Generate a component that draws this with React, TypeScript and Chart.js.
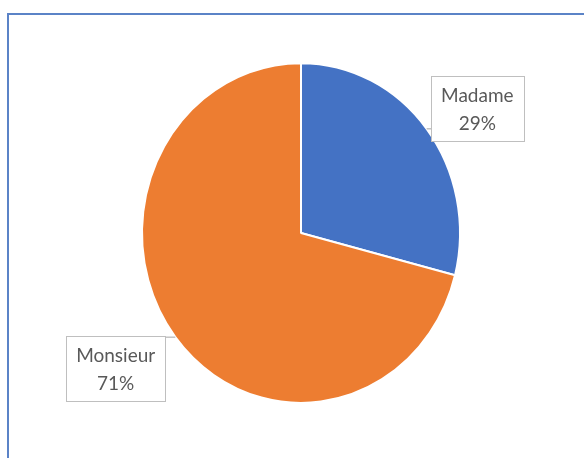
import React, { useEffect, useRef } from "react";
import { Chart, registerables } from "chart.js";

Chart.register(...registerables);

const categories = ["Madame", "Monsieur"];
const values = [29, 71];
const percentLabels = ["29%", "71%"];
const colors = ["#4472C4", "#ED7D31"];
// label box nudges (pixels) relative to default callout placement
const labelNudges = [
  [13, 11],
  [-22, 0],
];

const SY = 171 / 160; // vertical stretch of the pie

const stretchPlugin = {
  id: "stretch",
  beforeDatasetsDraw(chart: any) {
    const ctx = chart.ctx;
    const a = chart.chartArea;
    const cx = (a.left + a.right) / 2;
    const cy = (a.top + a.bottom) / 2;
    ctx.save();
    ctx.translate(cx, cy);
    ctx.scale(1, SY);
    ctx.translate(-cx, -cy);
  },
  afterDatasetsDraw(chart: any) {
    chart.ctx.restore();
  },
};

const calloutPlugin = {
  id: "callouts",
  afterDraw(chart: any) {
    const ctx = chart.ctx;
    const meta = chart.getDatasetMeta(0);
    const fontSize = 19;
    ctx.save();
    ctx.font = `${fontSize}px Lato, "Open Sans", sans-serif`;
    meta.data.forEach((arc: any, i: number) => {
      const p = arc.getProps(["x", "y", "startAngle", "endAngle", "outerRadius"], true);
      const mid = (p.startAngle + p.endAngle) / 2;
      const c = Math.cos(mid);
      const s = Math.sin(mid);
      const R = p.outerRadius;
      const ex = p.x + c * R;
      const ey = p.y + s * R * SY;
      const k = 1.3;
      const bx = p.x + c * R * k + labelNudges[i][0];
      const by = p.y + s * R * SY * k + labelNudges[i][1];
      const line1 = categories[i];
      const line2 = percentLabels[i];
      const tw = Math.max(ctx.measureText(line1).width, ctx.measureText(line2).width);
      const w = tw + 20;
      const h = 65;
      const left = bx - w / 2;
      const top = by - h / 2;
      // leader line
      const qx = Math.min(Math.max(ex, left), left + w);
      const qy = Math.min(Math.max(ey, top), top + h);
      ctx.strokeStyle = "#a6a6a6";
      ctx.lineWidth = 1;
      ctx.beginPath();
      ctx.moveTo(ex, ey);
      ctx.lineTo(qx, qy);
      ctx.stroke();
      // box
      ctx.fillStyle = "#ffffff";
      ctx.fillRect(left, top, w, h);
      ctx.strokeStyle = "#bfbfbf";
      ctx.strokeRect(Math.round(left) + 0.5, Math.round(top) + 0.5, Math.round(w), Math.round(h));
      ctx.fillStyle = "#595959";
      ctx.textAlign = "center";
      ctx.textBaseline = "middle";
      ctx.fillText(line1, bx, by - 13);
      ctx.fillText(line2, bx, by + 15);
    });
    ctx.restore();
  },
};

export default function App() {
  const ref = useRef<HTMLCanvasElement | null>(null);
  useEffect(() => {
    if (!ref.current) return;
    const chart = new Chart(ref.current, {
      type: "pie",
      data: {
        labels: categories,
        datasets: [
          {
            data: values,
            backgroundColor: colors,
            borderColor: "#ffffff",
            borderWidth: 2,
          },
        ],
      },
      options: {
        responsive: false,
        animation: false,
        layout: { padding: { left: 141, right: 123, top: 73, bottom: 65 } },
        plugins: {
          legend: { display: false },
          tooltip: { enabled: false },
        },
      },
      plugins: [stretchPlugin, calloutPlugin],
    });
    return () => chart.destroy();
  }, []);
  return (
    <div
      style={{
        position: "fixed",
        left: 0,
        top: 0,
        width: 584,
        height: 458,
        overflow: "hidden",
        background: "#ffffff",
      }}
    >
      <div
        style={{
          position: "absolute",
          left: 7,
          top: 13,
          width: 620,
          height: 500,
          border: "2px solid #5b83c7",
          boxSizing: "border-box",
        }}
      />
      <canvas ref={ref} width={584} height={458} style={{ position: "absolute", left: 0, top: 0 }} />
    </div>
  );
}
